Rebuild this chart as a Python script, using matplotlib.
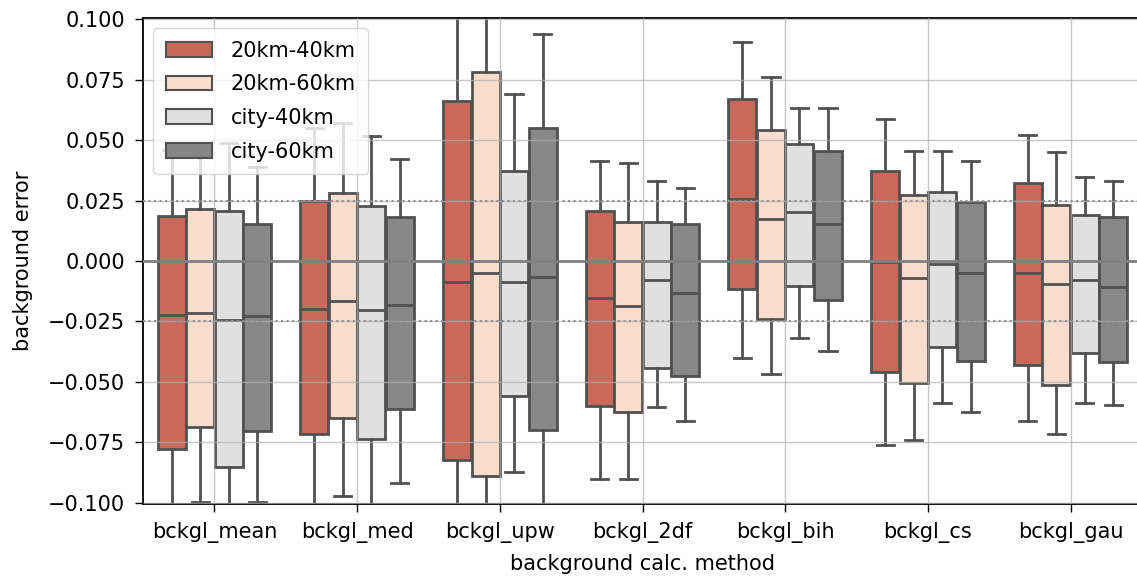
import numpy as np
import matplotlib
matplotlib.use("Agg")
import matplotlib.pyplot as plt
from matplotlib.patches import Patch

methods = ["bckgl_mean", "bckgl_med", "bckgl_upw", "bckgl_2df",
           "bckgl_bih", "bckgl_cs", "bckgl_gau"]
groups = ["20km-40km", "20km-60km", "city-40km", "city-60km"]

# box stats, one row per method, one column per group
q1 = [[-0.0777, -0.0685, -0.0850, -0.0704],
      [-0.0715, -0.0649, -0.0736, -0.0614],
      [-0.0825, -0.0891, -0.0557, -0.0698],
      [-0.0600, -0.0623, -0.0442, -0.0474],
      [-0.0116, -0.0240, -0.0102, -0.0160],
      [-0.0460, -0.0505, -0.0354, -0.0412],
      [-0.0430, -0.0511, -0.0382, -0.0419]]
med = [[-0.0222, -0.0216, -0.0242, -0.0226],
       [-0.0198, -0.0167, -0.0202, -0.0180],
       [-0.0086, -0.0050, -0.0086, -0.0067],
       [-0.0153, -0.0187, -0.0077, -0.0132],
       [0.0256, 0.0174, 0.0201, 0.0153],
       [-0.0006, -0.0070, -0.0012, -0.0050],
       [-0.0050, -0.0095, -0.0077, -0.0106]]
q3 = [[0.0186, 0.0215, 0.0205, 0.0153],
      [0.0250, 0.0280, 0.0226, 0.0180],
      [0.0662, 0.0782, 0.0373, 0.0552],
      [0.0208, 0.0160, 0.0162, 0.0153],
      [0.0672, 0.0541, 0.0484, 0.0456],
      [0.0373, 0.0274, 0.0284, 0.0243],
      [0.0321, 0.0233, 0.0191, 0.0180]]
whislo = [[-0.130, -0.0995, -0.125, -0.0995],
          [-0.125, -0.0970, -0.120, -0.0920],
          [-0.140, -0.135, -0.0871, -0.125],
          [-0.0901, -0.0901, -0.0605, -0.0660],
          [-0.0401, -0.0467, -0.0318, -0.0373],
          [-0.0763, -0.0742, -0.0587, -0.0623],
          [-0.0660, -0.0715, -0.0587, -0.0594]]
whishi = [[0.0460, 0.0480, 0.0490, 0.0389],
          [0.0552, 0.0569, 0.0518, 0.0421],
          [0.140, 0.150, 0.0690, 0.0940],
          [0.0412, 0.0404, 0.0330, 0.0302],
          [0.0904, 0.0763, 0.0632, 0.0632],
          [0.0587, 0.0456, 0.0456, 0.0412],
          [0.0522, 0.0449, 0.0346, 0.0330]]

colors = ["#c8695a", "#f8dccc", "#e0e0e0", "#878787"]
edge = "#515151"
fs = 15

fig = plt.figure(figsize=(11.37, 5.76), dpi=100)
ax = fig.add_axes([143 / 1137, 1 - 504 / 576, 999 / 1137, 486 / 576])

n = len(groups)
w = 0.8 / n
for j in range(n):
    stats = []
    for i in range(len(methods)):
        stats.append(dict(med=med[i][j], q1=q1[i][j], q3=q3[i][j],
                          whislo=whislo[i][j], whishi=whishi[i][j], fliers=[]))
    pos = np.arange(len(methods)) - 0.4 + w * (j + 0.5)
    ax.bxp(stats, positions=pos, widths=w * 0.98, patch_artist=True,
           showfliers=False, manage_ticks=False,
           boxprops=dict(facecolor=colors[j], edgecolor=edge, linewidth=2.0),
           whiskerprops=dict(color=edge, linewidth=2.0),
           capprops=dict(color=edge, linewidth=2.0),
           medianprops=dict(color=edge, linewidth=2.0),
           capwidths=w * 0.6)

ax.set_xlim(-0.5, len(methods) - 0.5)
ax.set_ylim(-0.1005, 0.1005)
ax.set_xticks(np.arange(len(methods)))
ax.set_xticklabels(methods)
ax.set_yticks(np.round(np.arange(-0.1, 0.1001, 0.025), 3))
ax.grid(True, color="#b0b0b0", linewidth=1.0, alpha=0.7, zorder=5)
ax.set_axisbelow(False)
ax.axhline(0, color="#808080", linewidth=2.0, zorder=6)
for yv in (-0.025, 0.025):
    ax.axhline(yv, color="#909090", linewidth=1.5, linestyle=":", zorder=6)

ax.tick_params(labelsize=fs, length=6, width=1.0, pad=7)
ax.set_xlabel("background calc. method", fontsize=fs, labelpad=8)
ax.set_ylabel("background error", fontsize=fs, labelpad=11)
for s in ax.spines.values():
    s.set_linewidth(1.3)

handles = [Patch(facecolor=c, edgecolor=edge, linewidth=1.5) for c in colors]
leg = ax.legend(handles, groups, loc="upper left", fontsize=fs,
                framealpha=0.8, borderpad=0.6, handlelength=2.2,
                handletextpad=0.9, labelspacing=0.65)
leg.set_zorder(10)

fig.savefig("out.png", dpi=100)
